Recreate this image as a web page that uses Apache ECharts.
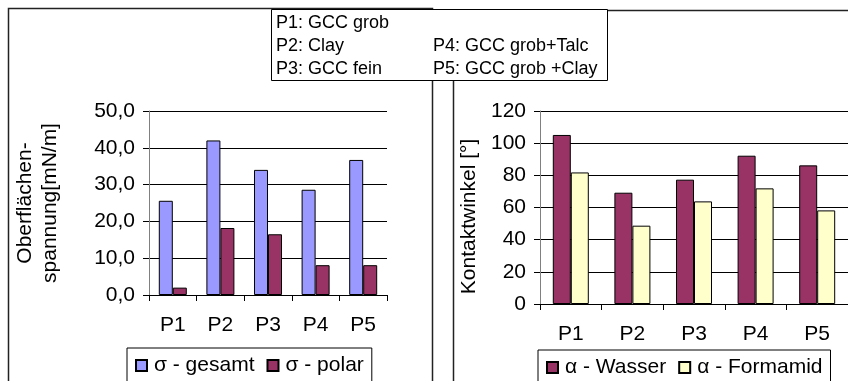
<!DOCTYPE html>
<html>
<head>
<meta charset="utf-8">
<script src="https://cdn.jsdelivr.net/npm/echarts@6/dist/echarts.min.js"></script>
<style>
html,body{margin:0;padding:0;background:#fff;}
#chart{width:848px;height:381px;}
</style>
</head>
<body>
<div id="chart"></div>
<script>
var categories = ['P1', 'P2', 'P3', 'P4', 'P5'];
var sigmaGesamt = [25.6, 42.0, 34.0, 28.6, 36.7];
var sigmaPolar = [2.0, 18.2, 16.5, 8.1, 8.1];
var alphaWasser = [105.1, 69.2, 77.3, 92.2, 86.2];
var alphaFormamid = [81.8, 48.7, 63.8, 71.9, 58.2];
var leftSeriesNames = ['σ - gesamt', 'σ - polar'];
var rightSeriesNames = ['α - Wasser', 'α - Formamid'];
var leftAxisName = 'Oberflächen-\nspannung[mN/m]';
var rightAxisName = 'Kontaktwinkel [°]';
var boxCol1 = ['P1: GCC grob', 'P2: Clay', 'P3: GCC fein'];
var boxCol2 = ['', 'P4: GCC grob+Talc', 'P5: GCC grob +Clay'];

var FONT = '"Liberation Sans", Arial, sans-serif';
var chart = echarts.init(document.getElementById('chart'));

function boxTexts() {
  var els = [];
  var ys = [24, 47, 70];
  for (var i = 0; i < 3; i++) {
    if (boxCol1[i]) els.push({type: 'text', left: 276, top: ys[i] - 10, z: 20,
      style: {text: boxCol1[i], font: '18px ' + FONT, fill: '#000'}});
    if (boxCol2[i]) els.push({type: 'text', left: 433, top: ys[i] - 10, z: 20,
      style: {text: boxCol2[i], font: '18px ' + FONT, fill: '#000'}});
  }
  return els;
}

var yAxisCommon = {
  type: 'value',
  axisLine: {show: true, lineStyle: {color: '#808080', width: 1}},
  axisTick: {show: true, length: 6, lineStyle: {color: '#000'}},
  splitLine: {show: true, lineStyle: {color: '#000', width: 1}},
  axisLabel: {fontFamily: FONT, fontSize: 21, color: '#000', margin: 14},
  nameLocation: 'middle',
  nameTextStyle: {fontFamily: FONT, fontSize: 21, color: '#000', lineHeight: 25}
};
var xAxisCommon = {
  type: 'category',
  data: categories,
  axisLine: {show: true, lineStyle: {color: '#000', width: 1}},
  axisTick: {show: true, length: 6, alignWithLabel: false, lineStyle: {color: '#000'}},
  axisLabel: {fontFamily: FONT, fontSize: 21, color: '#000', margin: 20}
};

var legendCommon = {padding: [7, 8, 12, 8], itemWidth: 11, itemHeight: 11, itemGap: 12,
  icon: 'rect', borderColor: '#000', borderWidth: 1, backgroundColor: '#fff',
  textStyle: {fontFamily: FONT, fontSize: 21, color: '#000', padding: [0, 0, 0, 2]}};

var option = {
  animation: false,
  backgroundColor: '#fff',
  grid: [
    {left: 149, top: 111, width: 238, height: 184},
    {left: 540, top: 111, width: 309, height: 193}
  ],
  xAxis: [
    Object.assign({}, xAxisCommon, {gridIndex: 0}),
    Object.assign({}, xAxisCommon, {gridIndex: 1})
  ],
  yAxis: [
    Object.assign({}, yAxisCommon, {gridIndex: 0, min: 0, max: 50, interval: 10,
      name: leftAxisName, nameGap: 86,
      axisLabel: Object.assign({}, yAxisCommon.axisLabel, {
        formatter: function (v) { return v.toFixed(1).replace('.', ','); }})}),
    Object.assign({}, yAxisCommon, {gridIndex: 1, min: 0, max: 120, interval: 20,
      name: rightAxisName, nameGap: 58,
      nameTextStyle: Object.assign({}, yAxisCommon.nameTextStyle, {padding: [0, 18, 0, 0]})})
  ],
  legend: [
    Object.assign({}, legendCommon, {left: 127, top: 348, data: leftSeriesNames}),
    Object.assign({}, legendCommon, {left: 538, top: 350, data: rightSeriesNames})
  ],
  graphic: [
    {type: 'rect', shape: {x: 8.5, y: 8.5, width: 424, height: 400}, z: 0,
      style: {fill: 'none', stroke: '#222', lineWidth: 1.5}, silent: true},
    {type: 'rect', shape: {x: 453.5, y: 10.5, width: 420, height: 400}, z: 0,
      style: {fill: 'none', stroke: '#222', lineWidth: 1.5}, silent: true},
    {type: 'rect', shape: {x: 271.5, y: 9.5, width: 336, height: 71}, z: 19,
      style: {fill: '#fff', stroke: '#000', lineWidth: 1}, silent: true}
  ].concat(boxTexts()),
  series: [
    {name: leftSeriesNames[0], type: 'bar', xAxisIndex: 0, yAxisIndex: 0, data: sigmaGesamt,
      barWidth: 14, barGap: '0%', itemStyle: {color: '#9999FF', borderColor: '#000', borderWidth: 1}},
    {name: leftSeriesNames[1], type: 'bar', xAxisIndex: 0, yAxisIndex: 0, data: sigmaPolar,
      barWidth: 14, barGap: '0%', itemStyle: {color: '#993366', borderColor: '#000', borderWidth: 1}},
    {name: rightSeriesNames[0], type: 'bar', xAxisIndex: 1, yAxisIndex: 1, data: alphaWasser,
      barWidth: 18, barGap: '0%', itemStyle: {color: '#993366', borderColor: '#000', borderWidth: 1}},
    {name: rightSeriesNames[1], type: 'bar', xAxisIndex: 1, yAxisIndex: 1, data: alphaFormamid,
      barWidth: 18, barGap: '0%', itemStyle: {color: '#FFFFCC', borderColor: '#000', borderWidth: 1}}
  ]
};
chart.setOption(option);
</script>
</body>
</html>
